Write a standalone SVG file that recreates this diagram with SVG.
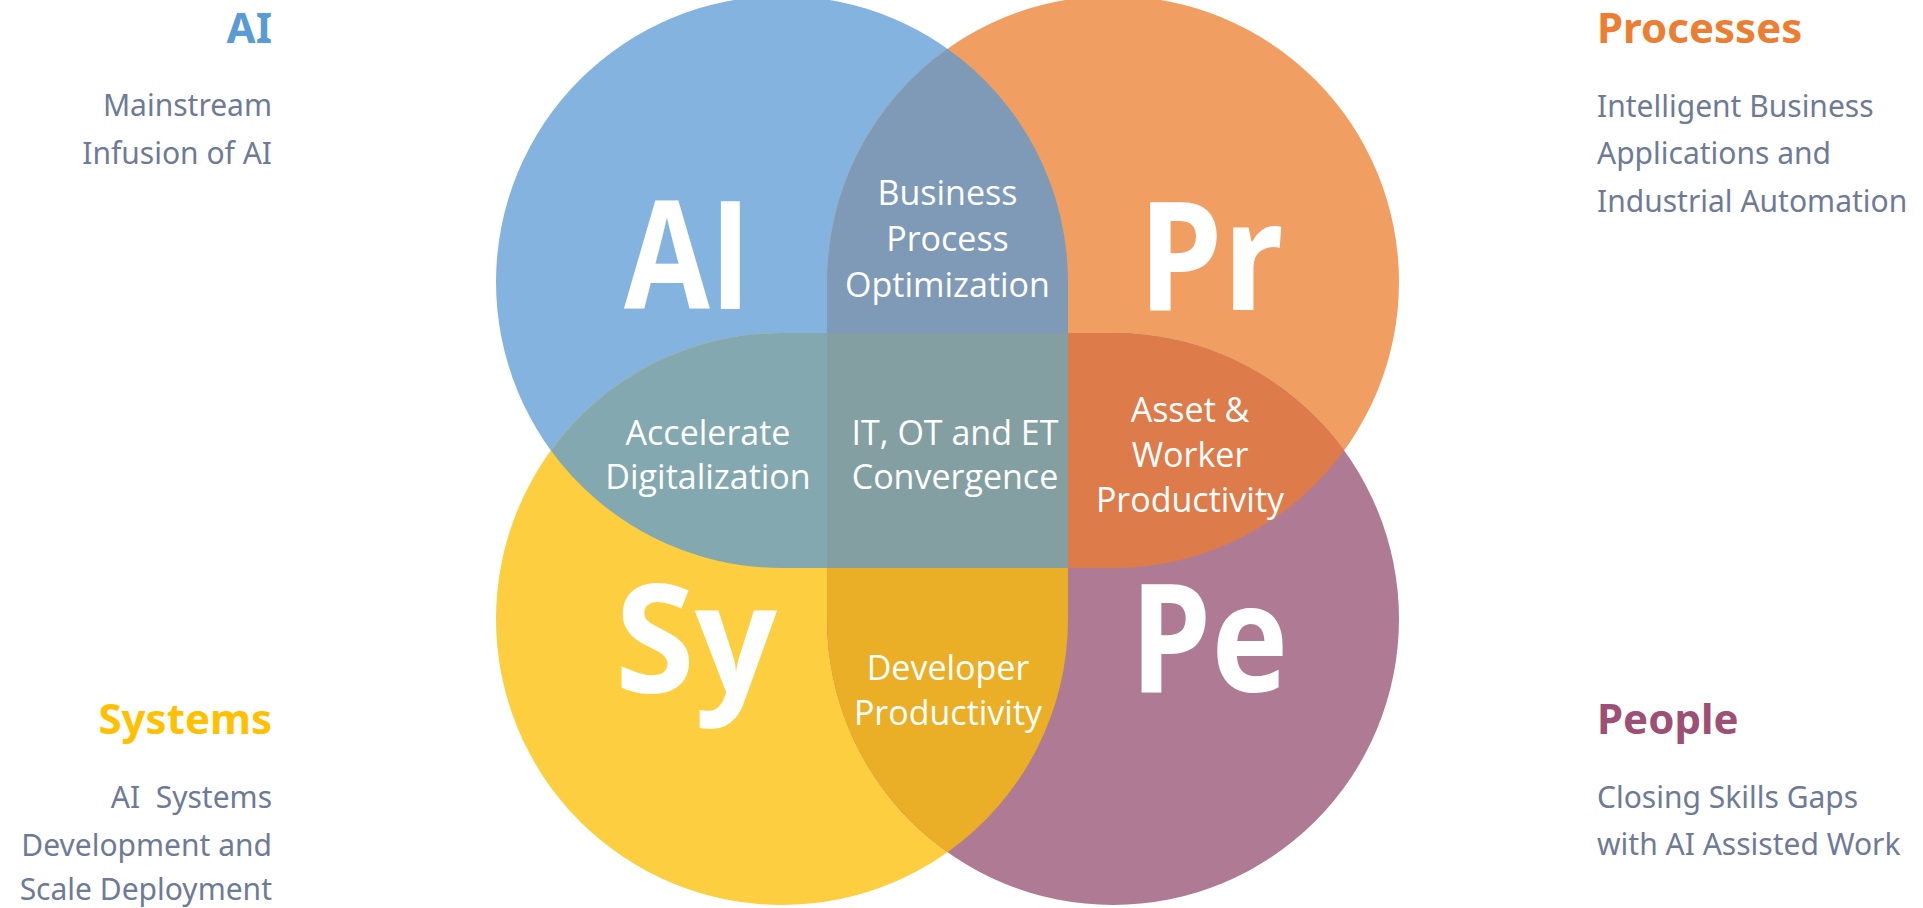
<svg xmlns="http://www.w3.org/2000/svg" width="1923" height="908" viewBox="0 0 1923 908">
<style>
.big{font-family:"Open Sans","Noto Sans",sans-serif;font-weight:700;font-size:150px;fill:#fff;text-anchor:middle}
.lbl{font-family:"Open Sans","Noto Sans",sans-serif;font-size:34px;fill:#fff;text-anchor:middle}
.ttl{font-family:"Noto Sans","Open Sans",sans-serif;font-weight:700;font-size:42px}
.body{font-family:"Noto Sans","Open Sans",sans-serif;font-size:30px;fill:#6F7A96}
.r{text-anchor:end}
.l{text-anchor:start}
</style>
<rect width="1923" height="908" fill="#fff"/>
<g id="circles">
  <circle id="c-ai" cx="782" cy="282" r="286" fill="#85B3DF"/>
  <circle id="c-pr" cx="1113" cy="282" r="286" fill="#F19E63"/>
  <circle id="c-sy" cx="782" cy="619" r="286" fill="#FDCE3F"/>
  <circle id="c-pe" cx="1113" cy="619" r="286" fill="#AF7B94"/>
</g>
<g id="overlaps">
  <path id="o-top" d="M827,451 L827,282 A286,286 0 0 1 947.5,48.7 A286,286 0 0 1 1068,282 L1068,451 Z" fill="#7F9AB7"/>
  <path id="o-bottom" d="M827,451 L827,619 A286,286 0 0 0 947.5,852.3 A286,286 0 0 0 1068,619 L1068,451 Z" fill="#EAAF26"/>
  <path id="o-left" d="M782,333 A286,286 0 0 0 550.9,450.5 A286,286 0 0 0 782,568 L947.5,568 L947.5,333 Z" fill="#84A8AF"/>
  <path id="o-right" d="M1113,333 A286,286 0 0 1 1344.1,450.5 A286,286 0 0 1 1113,568 L947.5,568 L947.5,333 Z" fill="#DD7B4B"/>
  <rect id="o-center" x="827" y="333" width="241" height="235" fill="#839FA2"/>
</g>
<g id="connectors"></g>
<g id="node-ai">
  <text class="big" x="687.5" y="309" textLength="127" lengthAdjust="spacingAndGlyphs">AI</text>
  <text class="ttl r" x="272" y="43" fill="#5B9BD5">AI</text>
  <text class="body r" x="272" y="116">Mainstream</text>
  <text class="body r" x="272" y="164">Infusion of AI</text>
</g>
<g id="node-processes">
  <text class="big" x="1211" y="310" textLength="146" lengthAdjust="spacingAndGlyphs">Pr</text>
  <text class="ttl l" x="1597" y="43" fill="#ED7D31">Processes</text>
  <text class="body l" x="1597" y="117">Intelligent Business</text>
  <text class="body l" x="1597" y="164">Applications and</text>
  <text class="body l" x="1597" y="212">Industrial Automation</text>
</g>
<g id="node-systems">
  <text class="big" x="696" y="693" textLength="162" lengthAdjust="spacingAndGlyphs">Sy</text>
  <text class="ttl r" x="272" y="734" fill="#FFC000">Systems</text>
  <text class="body r" x="272" y="808" xml:space="preserve">AI  Systems</text>
  <text class="body r" x="272" y="856">Development and</text>
  <text class="body r" x="272" y="900">Scale Deployment</text>
</g>
<g id="node-people">
  <text class="big" x="1209" y="692" textLength="158" lengthAdjust="spacingAndGlyphs">Pe</text>
  <text class="ttl l" x="1597" y="734" fill="#9E4F76">People</text>
  <text class="body l" x="1597" y="808">Closing Skills Gaps</text>
  <text class="body l" x="1597" y="855">with AI Assisted Work</text>
</g>
<g id="node-bpo">
  <text class="lbl" x="947.5" y="205">Business</text>
  <text class="lbl" x="947.5" y="251">Process</text>
  <text class="lbl" x="947.5" y="297">Optimization</text>
</g>
<g id="node-accelerate">
  <text class="lbl" x="708" y="445">Accelerate</text>
  <text class="lbl" x="708" y="489">Digitalization</text>
</g>
<g id="node-convergence">
  <text class="lbl" x="955" y="445">IT, OT and ET</text>
  <text class="lbl" x="955" y="489">Convergence</text>
</g>
<g id="node-asset">
  <text class="lbl" x="1190" y="422">Asset &amp;</text>
  <text class="lbl" x="1190" y="467">Worker</text>
  <text class="lbl" x="1190" y="512">Productivity</text>
</g>
<g id="node-developer">
  <text class="lbl" x="948" y="680">Developer</text>
  <text class="lbl" x="948" y="725">Productivity</text>
</g>
</svg>
